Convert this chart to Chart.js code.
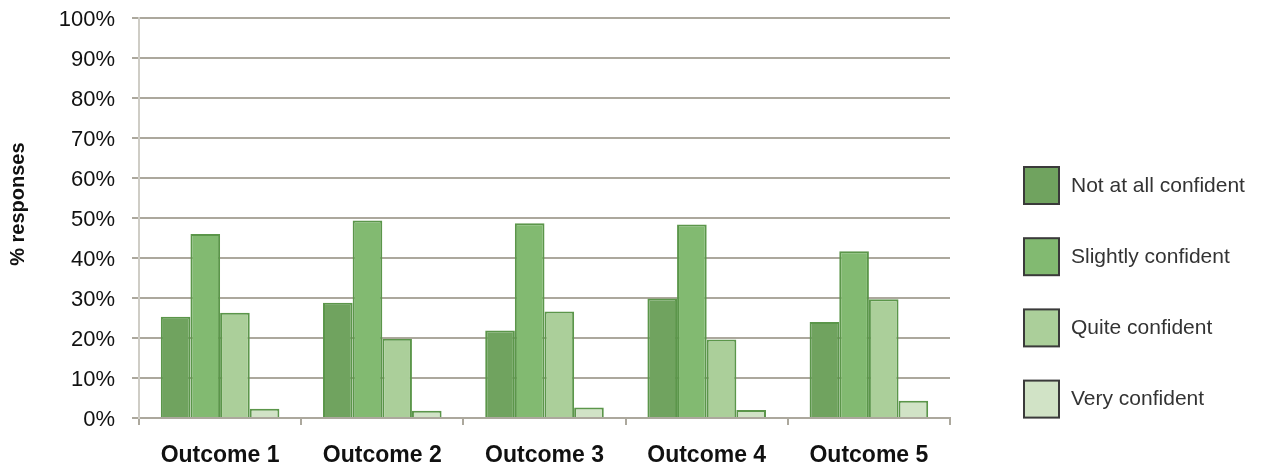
<!DOCTYPE html>
<html>
<head>
<meta charset="utf-8">
<script src="https://cdn.jsdelivr.net/npm/chart.js@4"></script>
<style>
  html, body { margin: 0; padding: 0; background: #fff; }
  #wrap { width: 1263px; height: 469px; }
</style>
</head>
<body>
<div id="wrap"><canvas id="myChart" width="1263" height="469"></canvas></div>
<script>
const categories = ['Outcome 1', 'Outcome 2', 'Outcome 3', 'Outcome 4', 'Outcome 5'];
const seriesNames = ['Not at all confident', 'Slightly confident', 'Quite confident', 'Very confident'];
const notAtAll = [25.3, 28.8, 21.9, 29.9, 24.0];
const slightly = [46.0, 49.4, 48.7, 48.4, 41.7];
const quite    = [26.3, 19.8, 26.6, 19.6, 29.7];
const very     = [2.3, 1.8, 2.6, 2.0, 4.3];
const yTicks = [0, 10, 20, 30, 40, 50, 60, 70, 80, 90, 100];

const fills = ['#70a35f', '#82ba71', '#abcf9a', '#d1e3c6'];
const gridColor = '#aca89d';
const font = "'Liberation Sans', Arial, sans-serif";

// legend drawn by hand on the right side
const sideLegend = {
  id: 'sideLegend',
  afterDraw(chart) {
    const c = chart.ctx;
    c.save();
    chart.data.datasets.forEach((ds, i) => {
      const y = 167 + i * 71.2;
      c.fillStyle = ds.backgroundColor;
      c.fillRect(1024, y, 35, 37);
      c.strokeStyle = '#3a3a3a';
      c.lineWidth = 2;
      c.strokeRect(1024, y, 35, 37);
      c.fillStyle = '#333';
      c.font = '21px ' + font;
      c.textBaseline = 'middle';
      c.fillText(ds.label, 1071, y + 19);
    });
    c.restore();
  }
};

const ctx = document.getElementById('myChart').getContext('2d');
const allData = [notAtAll, slightly, quite, very];
let myChart = new Chart(ctx, {
  type: 'bar',
  data: {
    labels: categories,
    datasets: seriesNames.map((name, i) => ({
      label: name,
      data: allData[i],
      backgroundColor: fills[i],
      borderColor: '#5b964a',
      borderWidth: 2,
      categoryPercentage: 0.731,
      barPercentage: 1.0
    }))
  },
  options: {
    responsive: false,
    animation: false,
    layout: { padding: { top: 18, right: 313, left: 0, bottom: 0 } },
    plugins: {
      legend: { display: false },
      tooltip: { enabled: false }
    },
    scales: {
      x: {
        afterFit(scale) { scale.height = 51; },
        grid: { drawOnChartArea: false, color: gridColor, lineWidth: 2, tickLength: 7 },
        border: { color: gridColor, width: 2 },
        ticks: {
          color: '#111',
          padding: 17,
          font: { family: font, size: 23, weight: 'bold' }
        }
      },
      y: {
        min: 0,
        max: 100,
        afterFit(scale) {
          scale.width = 139;
          scale.paddingTop = 0;
          scale.paddingBottom = 0;
        },
        afterBuildTicks(scale) { scale.ticks = yTicks.map(v => ({ value: v })); },
        grid: { color: gridColor, lineWidth: 2, tickLength: 7 },
        border: { color: '#cfcdc6', width: 2 },
        ticks: {
          color: '#111',
          padding: 17,
          labelOffset: 2,
          font: { family: font, size: 22 },
          callback: function(value) {
            return value + '%';
          }
        },
        title: {
          display: true,
          text: '     % responses',
          color: '#111',
          padding: { top: 6, bottom: 0 },
          font: { family: font, size: 20, weight: 'bold' }
        }
      }
    }
  },
  plugins: [sideLegend]
});
</script>
</body>
</html>
